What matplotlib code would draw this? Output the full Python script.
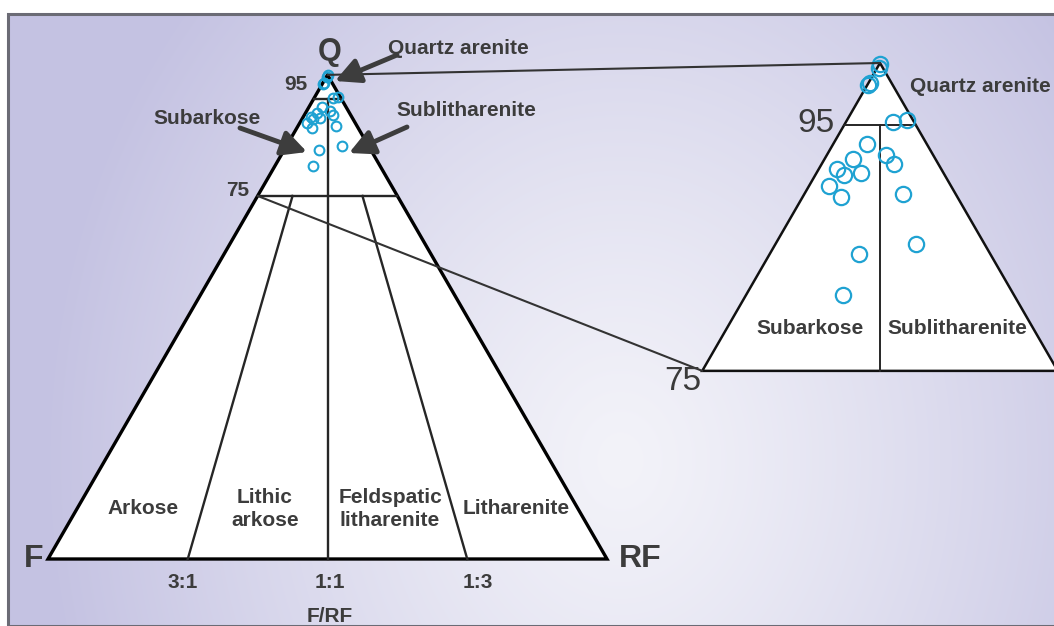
import numpy as np
import matplotlib
matplotlib.use('Agg')
import matplotlib.pyplot as plt
import matplotlib.transforms as mtransforms
from matplotlib.patches import Polygon, Rectangle, FancyArrowPatch, ConnectionPatch

plt.rcParams['font.family'] = ['Liberation Sans', 'DejaVu Sans']

# ---------------- data (sample compositions, %) ----------------
Q_vals = [99.9, 99.6, 98.4, 98.2, 95.2, 95.4, 93.4, 92.5, 91.8, 92.2,
          91.4, 90.9, 91.1, 90.0, 89.1, 89.4, 85.3, 84.5, 81.2]
F_vals = [0.05, 0.25, 1.5, 1.75, 1.5, 0.4, 4.2, 3.3, 3.1, 5.8,
          7.3, 7.1, 5.8, 8.6, 8.2, 3.7, 4.8, 9.2, 12.0]
RF_vals = [0.05, 0.15, 0.1, 0.05, 3.3, 4.2, 2.4, 4.2, 5.1, 2.0,
           1.3, 2.0, 3.1, 1.4, 2.7, 6.9, 9.9, 6.3, 6.8]

Q_levels = [95, 75]                    # field boundaries on Q
ratio_labels = ['3:1', '1:1', '1:3']   # F:RF boundaries
main_fields = ['Arkose', 'Lithic\narkose', 'Feldspatic\nlitharenite', 'Litharenite']
inset_fields = ['Subarkose', 'Sublitharenite']

H = np.sqrt(3) / 2


def tern(q, f, rf):
    q, f, rf = np.asarray(q, float), np.asarray(f, float), np.asarray(rf, float)
    s = q + f + rf
    return (rf + q / 2) / s, q * H / s


W, Hpx = 1054, 626
fig = plt.figure(figsize=(W / 100, Hpx / 100), dpi=100)
fig.patch.set_facecolor('white')
pix = mtransforms.Affine2D().scale(1 / W, -1 / Hpx).translate(0, 1) + fig.transFigure

# ---------------- background ----------------
fx0, fy0 = 8, 14
ax_bg = fig.add_axes([fx0 / W, 0, (W - fx0) / W, (Hpx - fy0) / Hpx])
yy, xx = np.mgrid[fy0:Hpx, fx0:W]
t = np.sqrt(((xx - 620) / 580.0) ** 2 + ((yy - 460) / 700.0) ** 2)
t = np.clip(t, 0, 1) ** 1.2
c0 = np.array([243, 243, 249]) / 255
c1 = np.array([196, 194, 226]) / 255
img = c0[None, None, :] + (c1 - c0)[None, None, :] * t[..., None]
ax_bg.imshow(img, aspect='auto', extent=(0, 1, 0, 1), origin='upper')
ax_bg.set_xlim(0, 1)
ax_bg.set_ylim(0, 1)
ax_bg.axis('off')
ax_bg.add_patch(Rectangle((0, 0), 1.2, 1, transform=ax_bg.transAxes, fill=False,
                          edgecolor='#6b6b75', lw=2.2, clip_on=False))

# ---------------- main triangle ----------------
ax = fig.add_axes([0, 0, 1, 1])
sc = 559.0
ax.set_xlim((0 - 48) / sc, (W - 48) / sc)
ax.set_ylim((559 - Hpx) / sc, 559 / sc)
ax.axis('off')
ax.patch.set_alpha(0)

line_c = '#262626'
txt_c = '#3c3c3c'
pt_c = '#1fa2d2'

cx, cy = tern([100, 0, 0], [0, 100, 0], [0, 0, 100])
ax.add_patch(Polygon(np.c_[cx, cy], closed=True, facecolor='white',
                     edgecolor='black', lw=2.4, joinstyle='miter', zorder=1))
for ql in Q_levels:
    lx, ly = tern([ql, ql], [100 - ql, 0], [0, 100 - ql])
    ax.plot(lx, ly, color=line_c, lw=1.7, zorder=2)
# 1:1 line from Q=95 to base
lx, ly = tern([95, 0], [2.5, 50], [2.5, 50])
ax.plot(lx, ly, color=line_c, lw=1.7, zorder=2)
for fs in [0.75, 0.25]:
    lx, ly = tern([75, 0], [25 * fs, 100 * fs], [25 * (1 - fs), 100 * (1 - fs)])
    ax.plot(lx, ly, color=line_c, lw=1.7, zorder=2)

px_, py_ = tern(Q_vals, F_vals, RF_vals)
ax.plot(px_, py_, 'o', ms=7, mfc='none', mec=pt_c, mew=1.5, zorder=3)

# ---------------- inset (zoom Q 75-100) ----------------
ax_in = fig.add_axes([0, 0, 1, 1])
s2 = 1422.0
ax_in.set_xlim(0.5 - 880 / s2, 0.5 + (W - 880) / s2)
ax_in.set_ylim(H - (Hpx - 63) / s2, H + 63 / s2)
ax_in.axis('off')
ax_in.patch.set_alpha(0)

ix, iy = tern([100, 75, 75], [0, 25, 0], [0, 0, 25])
ax_in.add_patch(Polygon(np.c_[ix, iy], closed=True, facecolor='white',
                        edgecolor='#111111', lw=1.8, joinstyle='miter', zorder=1))
lx, ly = tern([95, 95], [5, 0], [0, 5])
ax_in.plot(lx, ly, color=line_c, lw=1.4, zorder=2)
lx, ly = tern([95, 75], [2.5, 12.5], [2.5, 12.5])
ax_in.plot(lx, ly, color=line_c, lw=1.4, zorder=2)
ax_in.plot(px_, py_, 'o', ms=11, mfc='none', mec=pt_c, mew=1.6, zorder=3)

# ---------------- connectors ----------------
ax_pt = tern(100, 0, 0)
ax_75 = tern(75, 25, 0)
for a, b in [(ax_pt, ax_pt), (ax_75, ax_75)]:
    cp = ConnectionPatch(xyA=(float(a[0]), float(a[1])), coordsA=ax.transData,
                         xyB=(float(b[0]), float(b[1])), coordsB=ax_in.transData,
                         color='#333333', lw=1.5)
    fig.add_artist(cp)

# ---------------- text ----------------
def ptext(x, y, s, size=15, weight='bold', color=txt_c, ha='center', va='center', **kw):
    fig.text(x, y, s, transform=pix, fontsize=size, fontweight=weight, color=color,
             ha=ha, va=va, **kw)

ptext(330, 52, 'Q', size=22)
ptext(34, 559, 'F', size=23)
ptext(640, 559, 'RF', size=23)
ptext(296, 84, '95', size=15)
ptext(238, 190, '75', size=15)
ptext(458, 49, 'Quartz arenite')
ptext(207, 118, 'Subarkose')
ptext(466, 111, 'Sublitharenite')

field_x = [143, 265, 390, 516]
field_y = [508, 509, 509, 508]
for s, x, y in zip(main_fields, field_x, field_y):
    ptext(x, y, s, linespacing=1.25)

for s, x in zip(ratio_labels, [183, 330, 478]):
    ptext(x, 582, s)
ptext(330, 616, 'F/RF')

ptext(816, 124, '95', size=24, weight='normal', color='#3a3a3a')
ptext(683, 382, '75', size=24, weight='normal', color='#3a3a3a')
ptext(980, 87, 'Quartz arenite')
ptext(810, 328, inset_fields[0])
ptext(957, 328, inset_fields[1])

# arrows
for (x0, y0), (x1, y1) in [((397, 55), (335, 81)),
                           ((240, 128), (307, 152)),
                           ((407, 127), (349, 153))]:
    arr = FancyArrowPatch((x0, y0), (x1, y1), transform=pix,
                          arrowstyle='-|>,head_length=0.75,head_width=0.38',
                          mutation_scale=20, lw=3.5, color='#3d3d3d',
                          shrinkA=0, shrinkB=0)
    fig.add_artist(arr)

fig.savefig('out.png', dpi=100, facecolor='white')
